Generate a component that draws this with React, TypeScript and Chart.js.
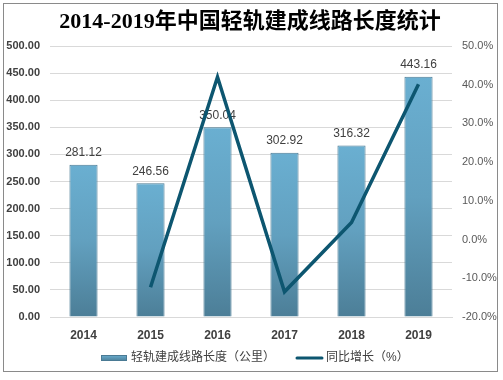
import React, { useEffect, useRef } from "react";
import { Chart, registerables } from "chart.js";

Chart.register(...registerables);

const years = ["2014", "2015", "2016", "2017", "2018", "2019"];
const lengthKm = [281.12, 246.56, 350.04, 302.92, 316.32, 443.16];
const growthPct = [null, -12.3, 42.0, -13.5, 4.4, 40.1];
const leftTicks = [0, 50, 100, 150, 200, 250, 300, 350, 400, 450, 500];
const rightTicks = [-20, -10, 0, 10, 20, 30, 40, 50];
const titleText = "2014-2019年中国轻轨建成线路长度统计";
const barLabel = "轻轨建成线路长度（公里）";
const lineLabel = "同比增长（%）";

const SANS = "'Liberation Sans', 'Noto Sans CJK SC', sans-serif";
const LINE_COLOR = "#0d5670";

export default function App() {
  const ref = useRef<HTMLCanvasElement | null>(null);

  useEffect(() => {
    if (!ref.current) return;

    const labelPlugin = {
      id: "barLabels",
      afterDatasetDraw(chart: any, args: any) {
        if (args.index !== 0) return;
        const ctx = chart.ctx;
        const meta = chart.getDatasetMeta(0);
        ctx.save();
        ctx.font = `12px ${SANS}`;
        ctx.fillStyle = "#404040";
        ctx.textAlign = "center";
        ctx.textBaseline = "bottom";
        meta.data.forEach((el: any, i: number) => {
          ctx.fillText(lengthKm[i].toFixed(2), el.x, el.y - 6);
        });
        ctx.restore();
      },
    };

    const decoPlugin = {
      id: "deco",
      afterDraw(chart: any) {
        const ctx = chart.ctx;
        ctx.save();
        // title
        ctx.font = `bold 22px 'Liberation Serif', 'Noto Sans CJK SC', serif`;
        ctx.fillStyle = "#000000";
        ctx.textAlign = "center";
        ctx.textBaseline = "middle";
        ctx.fillText(titleText, 250, 22);
        // legend
        const y = 358;
        ctx.font = `12px ${SANS}`;
        ctx.textAlign = "left";
        const g = ctx.createLinearGradient(0, y - 3, 0, y + 3);
        g.addColorStop(0, "#6aaed0");
        g.addColorStop(1, "#4c7f98");
        ctx.fillStyle = g;
        ctx.fillRect(101, y - 3, 26, 6);
        ctx.strokeStyle = "#4a7a94";
        ctx.lineWidth = 1;
        ctx.strokeRect(101.5, y - 2.5, 25, 5);
        ctx.fillStyle = "#404040";
        ctx.fillText(barLabel, 131, y);
        ctx.strokeStyle = LINE_COLOR;
        ctx.lineWidth = 3;
        ctx.lineCap = "round";
        ctx.beginPath();
        ctx.moveTo(297, y);
        ctx.lineTo(322, y);
        ctx.stroke();
        ctx.fillText(lineLabel, 326, y);
        ctx.restore();
      },
    };

    const chart = new Chart(ref.current, {
      type: "bar",
      data: {
        labels: years,
        datasets: [
          {
            type: "bar",
            label: barLabel,
            data: lengthKm,
            yAxisID: "y",
            order: 1,
            barPercentage: 0.42,
            categoryPercentage: 1,
            borderWidth: 1,
            borderColor: "#4a7a94",
            backgroundColor: (c: any) => {
              const chart = c.chart;
              const area = chart.chartArea;
              if (!area || c.parsed == null) return "#5f9fc0";
              const ys = chart.scales.y;
              const top = ys.getPixelForValue(c.parsed.y);
              const bottom = ys.getPixelForValue(0);
              const g = chart.ctx.createLinearGradient(0, top, 0, bottom);
              g.addColorStop(0, "#6aafd1");
              g.addColorStop(0.5, "#62a0bf");
              g.addColorStop(1, "#4c7e97");
              return g;
            },
          } as any,
          {
            type: "line",
            label: lineLabel,
            data: growthPct,
            yAxisID: "y1",
            order: 0,
            borderColor: LINE_COLOR,
            borderWidth: 3.5,
            pointRadius: 0,
            tension: 0,
            fill: false,
          } as any,
        ],
      },
      options: {
        animation: false,
        responsive: false,
        maintainAspectRatio: false,
        layout: { padding: { top: 46, bottom: 33, left: 0, right: 0 } },
        plugins: {
          legend: { display: false },
          title: { display: false },
          tooltip: { enabled: false },
        },
        scales: {
          x: {
            grid: { display: false, drawTicks: false },
            border: { color: "#d9d9d9" },
            ticks: {
              padding: 11,
              color: "#404040",
              font: { family: SANS, size: 12, weight: "bold" },
            },
            afterFit: (s: any) => {
              s.height = 30;
            },
          },
          y: {
            position: "left",
            min: 0,
            max: 500,
            afterBuildTicks: (s: any) => {
              s.ticks = leftTicks.map((v) => ({ value: v }));
            },
            grid: { color: "#d9d9d9", drawTicks: false },
            border: { display: false },
            ticks: {
              padding: 10,
              color: "#404040",
              font: { family: SANS, size: 11, weight: "bold" },
              callback: (v: any) => Number(v).toFixed(2),
            },
            afterFit: (s: any) => {
              s.width = 50;
            },
          },
          y1: {
            position: "right",
            min: -20,
            max: 50,
            afterBuildTicks: (s: any) => {
              s.ticks = rightTicks.map((v) => ({ value: v }));
            },
            grid: { display: false, drawTicks: false },
            border: { display: false },
            ticks: {
              padding: 10,
              color: "#595959",
              font: { family: SANS, size: 11 },
              callback: (v: any) => Number(v).toFixed(1) + "%",
            },
            afterFit: (s: any) => {
              s.width = 51;
            },
          },
        },
      } as any,
      plugins: [labelPlugin, decoPlugin],
    });

    return () => chart.destroy();
  }, []);

  return (
    <div style={{ position: "fixed", left: 0, top: 0, width: 503, height: 380, background: "#ffffff" }}>
      <div
        style={{
          position: "absolute",
          left: 3,
          top: 3,
          width: 495,
          height: 369,
          border: "1.5px solid #8a8a8a",
          boxSizing: "border-box",
        }}
      />
      <canvas ref={ref} width={503} height={380} style={{ position: "absolute", left: 0, top: 0, width: 503, height: 380 }} />
    </div>
  );
}
